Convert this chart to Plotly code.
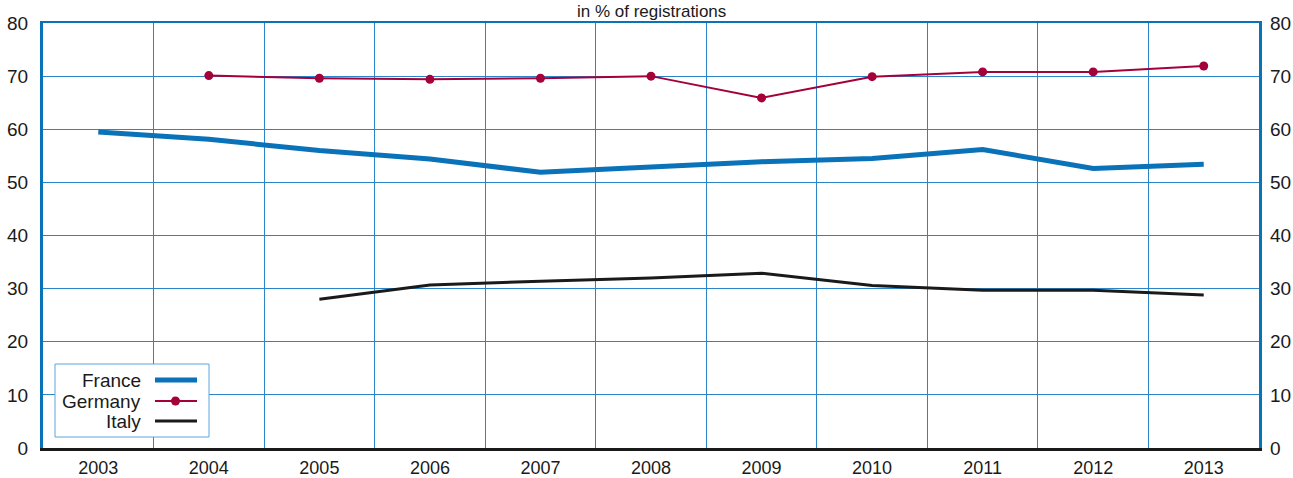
import plotly.graph_objects as go

years = ["2003", "2004", "2005", "2006", "2007", "2008", "2009", "2010", "2011", "2012", "2013"]
france = [59.5, 58.1, 56.0, 54.4, 51.9, 52.8, 53.9, 54.5, 56.2, 52.6, 53.4]
germany = [None, 70.1, 69.6, 69.4, 69.6, 70.0, 65.9, 69.9, 70.8, 70.8, 71.9]
italy = [None, None, 28.0, 30.7, 31.4, 32.0, 32.9, 30.6, 29.7, 29.7, 28.8]
y_ticks = [0, 10, 20, 30, 40, 50, 60, 70, 80]
title_text = "in % of registrations"

BLUE = "#0a72b8"
GRID = "#2a84c8"
RED = "#a4003a"
BLACK = "#1a1a1a"
FONT = "Liberation Sans, Arial, sans-serif"
TS = 19

W, H = 1293, 478
L, R, T, B = 43, 1259, 23, 448

fig = go.Figure()
fig.add_trace(go.Scatter(x=years, y=france, mode="lines", name="France",
                         line=dict(color=BLUE, width=5)))
fig.add_trace(go.Scatter(x=years, y=germany, mode="lines+markers", name="Germany",
                         line=dict(color=RED, width=2), marker=dict(color=RED, size=9)))
fig.add_trace(go.Scatter(x=years, y=italy, mode="lines", name="Italy",
                         line=dict(color=BLACK, width=3)))
# invisible trace to host right axis
fig.add_trace(go.Scatter(x=years, y=[None]*len(years), yaxis="y2", xaxis="x2",
                         showlegend=False, hoverinfo="skip"))

fig.update_layout(
    width=W, height=H,
    margin=dict(l=L, r=W - R, t=T, b=H - B, pad=0, autoexpand=False),
    paper_bgcolor="white", plot_bgcolor="white",
    showlegend=False,
    font=dict(family=FONT, size=TS, color="#1a1a1a"),
    xaxis=dict(type="category", categoryorder="array", categoryarray=years,
               range=[-0.5, 10.5], tickson="boundaries", showgrid=True,
               gridcolor=GRID, gridwidth=1, ticks="", showline=True,
               linecolor=BLACK, linewidth=3, zeroline=False, automargin=False,
               tickfont=dict(size=18), ticklabelstandoff=1, fixedrange=True),
    xaxis2=dict(overlaying="x", side="top", type="category", categoryarray=years,
                range=[-0.5, 10.5], showgrid=False, showticklabels=False,
                ticks="", showline=True, linecolor=BLUE, linewidth=2,
                zeroline=False, matches="x", automargin=False),
    yaxis=dict(range=[0, 80], tickvals=y_ticks, showgrid=True, gridcolor=GRID,
               gridwidth=1, ticks="", showline=True, linecolor=BLUE, linewidth=3,
               mirror=True, zeroline=False, tickfont=dict(size=TS), automargin=False,
               ticklabelstandoff=8, fixedrange=True),
    yaxis2=dict(range=[0, 80], tickvals=y_ticks, overlaying="y", side="right",
                showgrid=False, ticks="", showline=False, zeroline=False,
                automargin=False,
                tickfont=dict(size=TS), ticklabelstandoff=10, matches="y"),
)

fig.add_annotation(text=title_text, xref="paper", yref="paper",
                   x=0.5, y=1, yanchor="bottom", xanchor="center", yshift=0,
                   showarrow=False, font=dict(size=17, family=FONT))


def px_x(px):
    return (px - L) / (R - L)


def px_y(py):
    return (B - py) / (B - T)


# custom legend (text left, symbol right)
fig.add_shape(type="rect", xref="paper", yref="paper",
              x0=px_x(55), x1=px_x(209), y0=px_y(437), y1=px_y(364),
              line=dict(color="#5aa6dc", width=1), fillcolor="white", layer="above")
legend_rows = [("France", BLUE, 5, False, 380), ("Germany", RED, 2, True, 401),
               ("Italy", BLACK, 3, False, 421)]
for name, col, w, mk, py in legend_rows:
    fig.add_shape(type="line", xref="paper", yref="paper",
                  x0=px_x(155), x1=px_x(197), y0=px_y(py), y1=px_y(py),
                  line=dict(color=col, width=w), layer="above")
    if mk:
        fig.add_shape(type="circle", xref="paper", yref="paper",
                      x0=px_x(171), x1=px_x(180), y0=px_y(py + 4.5), y1=px_y(py - 4.5),
                      line=dict(color=col, width=0), fillcolor=col, layer="above")
    fig.add_annotation(text=name, xref="paper", yref="paper", x=px_x(143), y=px_y(py),
                       xanchor="right", yanchor="middle", showarrow=False,
                       font=dict(size=TS, family=FONT, color="#1a1a1a"))

fig.write_html("out.html")
